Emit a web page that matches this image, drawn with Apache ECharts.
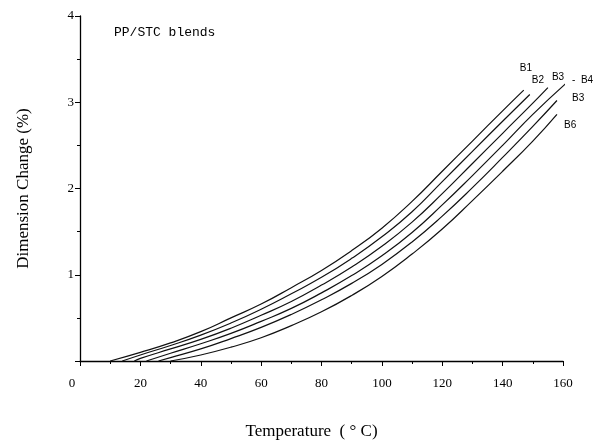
<!DOCTYPE html>
<html style="height: 100%">
<head>
  <meta charset="utf-8">
  <title>PP/STC blends</title>
</head>
<body style="height: 100%; margin: 0; background: #fff">
<div id="container" style="height: 443px; width: 595px;"></div>
<script type="text/javascript" src="https://cdn.jsdelivr.net/npm/echarts@6/dist/echarts.min.js"></script>
<script type="text/javascript">
  // curve data: [temperature, dimension change %]
  var b1 = [[10, 0], [20, 0.10], [30, 0.21], [40, 0.34], [50, 0.50], [60, 0.66], [70, 0.85], [80, 1.05], [90, 1.28], [100, 1.54], [110, 1.85], [120, 2.20], [130, 2.55], [140, 2.90], [147, 3.14]];
  var b2 = [[14, 0], [20, 0.07], [30, 0.18], [40, 0.30], [50, 0.44], [60, 0.60], [70, 0.78], [80, 0.97], [90, 1.19], [100, 1.44], [110, 1.73], [120, 2.08], [130, 2.43], [140, 2.78], [149, 3.09]];
  var b3 = [[18, 0], [20, 0.03], [30, 0.14], [40, 0.25], [50, 0.38], [60, 0.53], [70, 0.69], [80, 0.88], [90, 1.09], [100, 1.33], [110, 1.61], [120, 1.94], [130, 2.29], [140, 2.64], [150, 2.99], [155, 3.17]];
  var b4 = [[22, 0], [30, 0.09], [40, 0.20], [50, 0.32], [60, 0.46], [70, 0.61], [80, 0.79], [90, 0.99], [100, 1.22], [110, 1.49], [120, 1.81], [130, 2.15], [140, 2.50], [150, 2.86], [161, 3.22]];
  var b5 = [[26, 0], [30, 0.04], [40, 0.14], [50, 0.26], [60, 0.39], [70, 0.54], [80, 0.71], [90, 0.90], [100, 1.12], [110, 1.38], [120, 1.68], [130, 2.01], [140, 2.36], [150, 2.72], [158, 3.02]];
  var b6 = [[30, 0], [40, 0.07], [50, 0.16], [60, 0.27], [70, 0.41], [80, 0.57], [90, 0.76], [100, 0.98], [110, 1.24], [120, 1.53], [130, 1.86], [140, 2.20], [150, 2.55], [158, 2.86]];

  var seriesNames = ['B1', 'B2', 'B3', 'B4', 'B5', 'B6'];
  // labels as printed at the curve ends
  var endTexts = ['B1', 'B2', 'B3', '-  B4', 'B3', 'B6'];
  var labelOffsets = [[-12, -22], [-6, -14], [-4, -10], [-1, -4], [7, -2], [-1, 11]];

  var xTicks = [0, 20, 40, 60, 80, 100, 120, 140, 160];
  var yTicks = [1, 2, 3, 4];

  var curves = [b1, b2, b3, b4, b5, b6];
  var serif = 'Liberation Serif, Times New Roman, serif';

  var dom = document.getElementById("container");
  var myChart = echarts.init(dom);
  var option = null;

  var series = [];
  for (var i = 0; i < curves.length; i++) {
    series.push({
      name: seriesNames[i],
      type: 'line',
      smooth: true,
      showSymbol: false,
      clip: false,
      silent: true,
      animation: false,
      lineStyle: { color: '#111', width: 1.2 },
      data: curves[i],
      endLabel: {
        show: true,
        formatter: endTexts[i],
        color: '#000',
        fontFamily: 'Liberation Sans, Arial, sans-serif',
        fontSize: 10,
        offset: labelOffsets[i]
      }
    });
  }

  option = {
    backgroundColor: '#fff',
    animation: false,
    title: {
      text: 'PP/STC blends',
      left: 109,
      top: 21,
      textStyle: { fontFamily: 'Liberation Mono, Courier New, monospace', fontSize: 13, fontWeight: 'normal', color: '#000' }
    },
    grid: { left: 80, right: 32, top: 16, bottom: 82, outerBoundsMode: 'none' },
    xAxis: {
      type: 'value',
      min: 0,
      max: 160,
      interval: 20,
      name: 'Temperature  ( \u00b0 C)',
      nameLocation: 'middle',
      nameGap: 62,
      nameTextStyle: { fontFamily: serif, fontSize: 17, color: '#000', padding: [0, 20, 0, 0] },
      axisLine: { lineStyle: { color: '#000', width: 1.3 } },
      axisTick: { length: 5, lineStyle: { color: '#000' } },
      minorTick: { show: true, splitNumber: 2, length: 3, lineStyle: { color: '#000' } },
      splitLine: { show: false },
      axisLabel: {
        margin: 16,
        fontFamily: serif,
        fontSize: 13,
        color: '#000',
        formatter: function (v) {
          return xTicks.indexOf(v) === 0 ? '{z|' + v + '}' : String(v);
        },
        rich: { z: { fontFamily: serif, fontSize: 13, color: '#000', padding: [0, 16, 6, 0] } }
      }
    },
    yAxis: {
      type: 'value',
      min: 0,
      max: 4,
      interval: 1,
      name: 'Dimension Change (%)',
      nameLocation: 'middle',
      nameGap: 48,
      nameTextStyle: { fontFamily: serif, fontSize: 17, color: '#000' },
      axisLine: { show: true, lineStyle: { color: '#000', width: 1.3 } },
      axisTick: { show: true, length: 5, lineStyle: { color: '#000' } },
      minorTick: { show: true, splitNumber: 2, length: 3, lineStyle: { color: '#000' } },
      splitLine: { show: false },
      axisLabel: {
        margin: 6,
        fontFamily: serif,
        fontSize: 13,
        color: '#000',
        formatter: function (v) {
          return yTicks.indexOf(v) >= 0 ? String(v) : '';
        }
      }
    },
    series: series
  };

  if (option && typeof option === "object") {
    myChart.setOption(option, true);
  }
</script>
</body>
</html>
